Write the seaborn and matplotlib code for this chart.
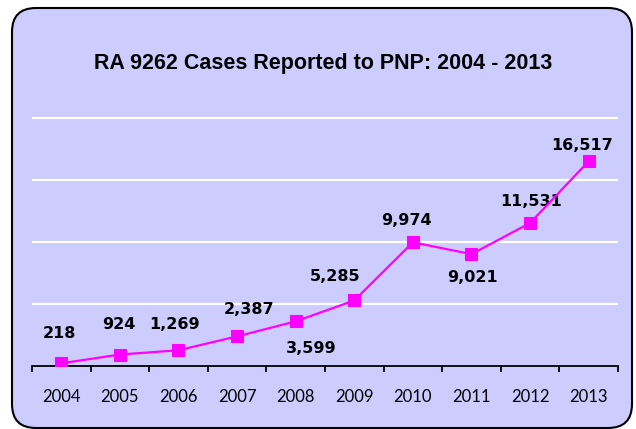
import matplotlib
matplotlib.use("Agg")
import matplotlib.pyplot as plt
from matplotlib.patches import FancyBboxPatch
import seaborn as sns
import pandas as pd

# ---- data ----
years = [2004, 2005, 2006, 2007, 2008, 2009, 2010, 2011, 2012, 2013]
cases = [218, 924, 1269, 2387, 3599, 5285, 9974, 9021, 11531, 16517]
year_labels = [str(y) for y in years]
value_labels = ["218", "924", "1,269", "2,387", "3,599", "5,285", "9,974", "9,021", "11,531", "16,517"]
title = "RA 9262 Cases Reported to PNP: 2004 - 2013"

# label offsets in pixels (styling)
label_offsets = [(-2, 30), (-1, 30), (-4, 26), (12, 27), (15, -27),
                 (-19, 24), (-6, 22), (1, -23), (1, 22), (-7, 16)]

W, H = 636, 429
BG = "#CCCCFF"
MAG = "#FF00FF"

df = pd.DataFrame({"year": years, "cases": cases})

fig = plt.figure(figsize=(W / 100, H / 100), dpi=100)
fig.patch.set_facecolor("white")

# rounded background box
bg = fig.add_axes([0, 0, 1, 1])
bg.set_xlim(0, W)
bg.set_ylim(H, 0)
bg.axis("off")
box = FancyBboxPatch((12, 8), 620, 420, boxstyle="round,pad=0,rounding_size=24",
                     facecolor=BG, edgecolor="black", linewidth=1.5)
bg.add_patch(box)

# title
fig.text(323.5 / W, 1 - 69 / H, title, ha="center", va="baseline",
         fontsize=15.5, fontweight="bold", family=["Liberation Sans", "DejaVu Sans"])

# main axes
ymax = 20300
px_per_unit = (366 - 118) / 20000
top_px = 366 - ymax * px_per_unit
ax = fig.add_axes([32 / W, (H - 366) / H, (618 - 32) / W, (366 - top_px) / H])
ax.set_facecolor(BG)
ax.patch.set_alpha(0)

sns.lineplot(data=df, x="year", y="cases", ax=ax, color=MAG, linewidth=1.6,
             marker="s", markersize=8, markeredgecolor=MAG, markerfacecolor=MAG,
             zorder=5)

ax.set_xlim(years[0] - 0.5, years[-1] + 0.5)
ax.set_ylim(0, ymax)
ax.set_yticks([5000, 10000, 15000, 20000])
ax.set_yticklabels([])
ax.tick_params(axis="y", length=0)
ax.yaxis.grid(True, color="white", linewidth=1.6)
ax.set_axisbelow(True)

ax.set_xticks(years)
ax.set_xticklabels(year_labels, fontsize=12, family=["Lato", "DejaVu Sans"])
ax.set_xticks([y - 0.5 for y in years] + [years[-1] + 0.5], minor=True)
ax.tick_params(axis="x", which="major", length=0, pad=16.5)
ax.tick_params(axis="x", which="minor", length=4.5, width=1.3, color="black", direction="out")

for s in ["left", "top", "right"]:
    ax.spines[s].set_visible(False)
ax.spines["bottom"].set_color("black")
ax.spines["bottom"].set_linewidth(1.3)
ax.set_xlabel("")
ax.set_ylabel("")

for x, v, lab, (dx, dy) in zip(years, cases, value_labels, label_offsets):
    ax.annotate(lab, xy=(x, v), xytext=(dx, dy), textcoords="offset pixels",
                ha="center", va="center", fontsize=11.5, fontweight="bold",
                family=["DejaVu Sans"], color="black", annotation_clip=False)

fig.savefig("out.png", dpi=100, facecolor="white")
